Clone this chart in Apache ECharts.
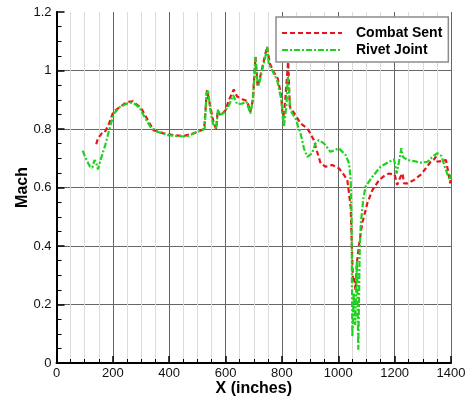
<!DOCTYPE html>
<html><head><meta charset="utf-8">
<script src="https://cdn.jsdelivr.net/npm/echarts@6/dist/echarts.min.js"></script>
<style>html,body{margin:0;padding:0;background:#fff}#c{width:469px;height:402px}</style>
</head><body><div id="c"></div>
<script>
var seriesNames = ['Combat Sent', 'Rivet Joint'];
var xTicks = [0, 200, 400, 600, 800, 1000, 1200, 1400];
var yTicks = [0, 0.2, 0.4, 0.6, 0.8, 1, 1.2];

var combatX = [141,147,161,170,184,202,226,250,270,287,300,321,344,380,415,451,486,510,524,534,546,558,567,572,582,600,612,629,641,659,676,688,697,706,714,724,735,747,757,771,785,797,804,812,822,828,836,848,866,890,901,913,925,937,955,979,1002,1020,1032,1044,1048,1052,1056,1061,1067,1076,1085,1103,1121,1145,1162,1180,1200,1209,1221,1228,1233,1245,1269,1293,1311,1328,1340,1346,1352,1364,1382,1390,1397,1400];
var combatMach = [0.748,0.768,0.785,0.787,0.813,0.859,0.876,0.892,0.895,0.882,0.872,0.836,0.796,0.785,0.779,0.776,0.785,0.794,0.800,0.933,0.876,0.819,0.799,0.864,0.847,0.864,0.899,0.935,0.911,0.902,0.896,0.859,0.900,1.047,0.944,0.984,1.030,1.081,1.024,0.995,0.973,0.916,0.830,0.900,1.030,0.876,0.864,0.848,0.819,0.802,0.785,0.762,0.722,0.683,0.671,0.677,0.666,0.643,0.626,0.534,0.400,0.280,0.290,0.250,0.350,0.420,0.478,0.546,0.591,0.626,0.639,0.648,0.644,0.609,0.637,0.648,0.614,0.614,0.626,0.644,0.666,0.688,0.696,0.705,0.688,0.690,0.694,0.654,0.614,0.640];

var rivetX = [93,102,119,127,135,141,147,155,173,190,204,226,250,265,279,296,315,333,357,393,427,463,492,516,526,532,538,546,555,567,573,579,594,612,627,641,659,674,688,697,706,712,718,730,741,748,753,765,783,798,807,816,821,824,830,848,866,878,890,907,919,931,949,972,1002,1026,1038,1044,1047,1050,1055,1060,1066,1071,1076,1080,1089,1097,1121,1150,1180,1198,1207,1215,1224,1229,1245,1269,1293,1317,1334,1352,1366,1378,1390,1397,1400];
var rivetMach = [0.726,0.703,0.671,0.668,0.694,0.685,0.662,0.690,0.745,0.808,0.853,0.876,0.887,0.890,0.885,0.871,0.836,0.808,0.791,0.779,0.776,0.774,0.787,0.796,0.802,0.921,0.933,0.864,0.819,0.800,0.866,0.847,0.855,0.881,0.916,0.885,0.887,0.893,0.853,0.900,1.046,0.973,0.950,1.001,1.046,1.081,1.024,1.001,0.967,0.899,0.808,0.880,0.978,0.940,0.864,0.836,0.785,0.734,0.705,0.717,0.751,0.762,0.751,0.722,0.734,0.711,0.683,0.626,0.500,0.090,0.240,0.130,0.350,0.045,0.387,0.478,0.563,0.603,0.637,0.671,0.688,0.696,0.648,0.686,0.734,0.705,0.694,0.690,0.685,0.688,0.705,0.717,0.708,0.671,0.637,0.626,0.645];

function pairs(xs, ys){ return xs.map(function(x,i){ return [x, ys[i]]; }); }

var FONT = '"Liberation Sans", Arial, Helvetica, sans-serif';
var chart = echarts.init(document.getElementById('c'), null, {renderer:'canvas'});
chart.setOption({
  animation: false,
  backgroundColor: '#fff',
  grid: {left: 56.5, right: 18, top: 12, bottom: 39, containLabel: false},
  legend: {
    orient: 'vertical', left: 276, top: 17,
    padding: [9, 6, 5, 5], itemGap: 3,
    itemWidth: 60, itemHeight: 14,
    backgroundColor: '#fff', borderColor: '#8c8c8c', borderWidth: 1.5,
    itemStyle: {opacity: 0},
    textStyle: {fontFamily: FONT, fontSize: 14, fontWeight: 'bold', color: '#000', padding: [0,0,0,9]},
    data: seriesNames
  },
  xAxis: {
    type: 'value', min: xTicks[0], max: xTicks[xTicks.length-1], interval: 200,
    name: 'X (inches)', nameLocation: 'middle', nameGap: 18, nameMoveOverlap: false,
    nameTextStyle: {fontFamily: FONT, fontSize: 16, fontWeight: 'bold', color: '#000'},
    axisLine: {show: true, onZero: false, lineStyle: {color: '#000', width: 2}},
    axisTick: {show: true, inside: true, length: 7, lineStyle: {color: '#000', width: 1.5}},
    minorTick: {show: true, splitNumber: 4, length: 4, lineStyle: {color: '#000', width: 1}},
    axisLabel: {margin: 4, fontFamily: FONT, fontSize: 13, color: '#111',
      formatter: function(v){ return String(v); }},
    splitLine: {show: true, lineStyle: {color: '#666', width: 1}},
    minorSplitLine: {show: true, lineStyle: {color: '#dcdcdc', width: 1}}
  },
  yAxis: {
    type: 'value', min: yTicks[0], max: yTicks[yTicks.length-1], interval: 0.2,
    name: 'Mach', nameLocation: 'middle', nameGap: 26, nameMoveOverlap: false,
    nameTextStyle: {fontFamily: FONT, fontSize: 16, fontWeight: 'bold', color: '#000'},
    axisLine: {show: true, onZero: false, lineStyle: {color: '#000', width: 2}},
    axisTick: {show: true, inside: true, length: 8, lineStyle: {color: '#000', width: 1.5}},
    minorTick: {show: true, splitNumber: 4, length: 5, lineStyle: {color: '#000', width: 1}},
    axisLabel: {margin: 5, fontFamily: FONT, fontSize: 13, color: '#111',
      formatter: function(v){ return String(Math.round(v*10)/10); }},
    splitLine: {show: true, showMaxLine: false, lineStyle: {color: '#666', width: 1}},
    minorSplitLine: {show: false}
  },
  series: [
    {name: seriesNames[0], type: 'line', data: pairs(combatX, combatMach), symbol: 'none', z: 3,
     lineStyle: {color: '#e8141b', width: 2.2, type: [5, 3]}, itemStyle: {color: '#e8141b'}},
    {name: seriesNames[1], type: 'line', data: pairs(rivetX, rivetMach), symbol: 'none', z: 4,
     lineStyle: {color: '#1ed21e', width: 2.2, type: [6, 2, 2, 2]}, itemStyle: {color: '#1ed21e'}}
  ]
});
</script></body></html>
